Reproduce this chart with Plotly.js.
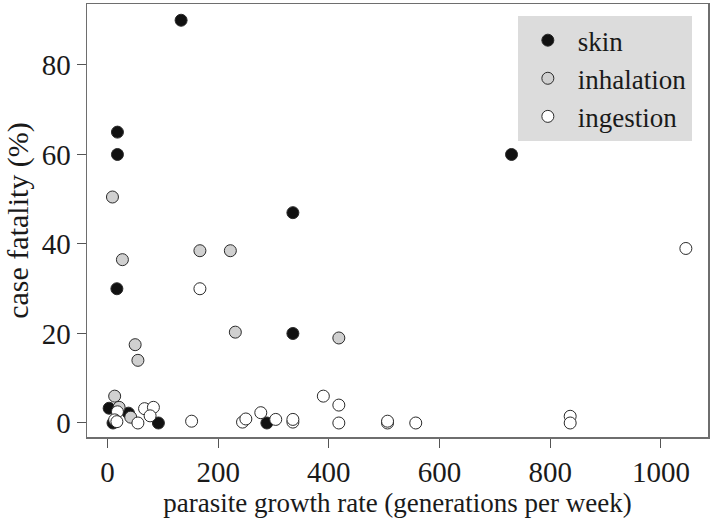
<!DOCTYPE html>
<html>
<head>
<meta charset="utf-8">
<script src="https://cdn.plot.ly/plotly-3.0.1.min.js"></script>
<style>html,body{margin:0;padding:0;background:#fff;}#chart{width:714px;height:518px;}</style>
</head>
<body>
<div id="chart"></div>
<script>
// skin
const skinX = [133, 18, 18, 17, 335, 335, 730, 3, 10, 38, 92, 288];
const skinY = [90, 65, 60, 30, 47, 20, 60, 3.3, 0, 2.2, 0, 0];
// inhalation
const inhalX = [9, 167, 222, 27, 231, 418, 50, 55, 13, 21, 42];
const inhalY = [50.5, 38.5, 38.5, 36.5, 20.3, 19, 17.5, 14, 6, 3.5, 1.3];
// ingestion
const ingestX = [167, 1045, 836, 836, 18, 13, 17, 55, 67, 83, 77, 152, 244, 250, 277, 304, 335, 335, 390, 418, 418, 506, 506, 557];
const ingestY = [30, 39, 1.5, 0, 2.5, 0.7, 0.3, 0, 3.2, 3.5, 1.6, 0.4, 0.2, 0.9, 2.3, 0.8, 0.2, 0.8, 6, 4, 0, 0, 0.4, 0];

const xTicks = [0, 200, 400, 600, 800, 1000];
const yTicks = [0, 20, 40, 60, 80];

const FONT = 'Liberation Serif, Times New Roman, serif';
function tr(name, x, y, fill) {
  return {
    type: 'scatter', mode: 'markers', name: name, x: x, y: y,
    marker: {size: 12, color: fill, line: {color: '#2a2a2a', width: 1}},
    hoverinfo: 'x+y'
  };
}
const data = [
  tr('skin', skinX, skinY, '#111111'),
  tr('inhalation', inhalX, inhalY, '#d0d0d0'),
  tr('ingestion', ingestX, ingestY, '#ffffff')
];
const axisCommon = {
  showgrid: false, zeroline: false, showline: true, mirror: true,
  linecolor: '#6e6e6e', linewidth: 1.5,
  ticks: 'outside', ticklen: 9, tickwidth: 1, tickcolor: '#555',
  tickfont: {family: FONT, size: 29, color: '#1a1a1a'}
};
const layout = {
  width: 714, height: 518,
  margin: {l: 87, r: 6, t: 4, b: 81},
  paper_bgcolor: '#fff', plot_bgcolor: '#fff',
  showlegend: true,
  legend: {
    x: 0.974, y: 0.972, xanchor: 'right', yanchor: 'top',
    bgcolor: '#dcdcdc', borderwidth: 0,
    font: {family: FONT, size: 27, color: '#1a1a1a'},
    itemwidth: 50
  },
  xaxis: Object.assign({}, axisCommon, {
    range: [-37, 1085], tickvals: xTicks, ticktext: xTicks.map(String),
    title: {text: 'parasite growth rate (generations per week)', font: {family: FONT, size: 27, color: '#1a1a1a'}, standoff: 3}
  }),
  yaxis: Object.assign({}, axisCommon, {
    range: [-3.13, 93.63], tickvals: yTicks, ticktext: yTicks.map(String),
    title: {text: 'case fatality (%)', font: {family: FONT, size: 30, color: '#1a1a1a'}, standoff: 4}
  })
};
Plotly.newPlot('chart', data, layout, {displayModeBar: false, staticPlot: true});
</script>
</body>
</html>
